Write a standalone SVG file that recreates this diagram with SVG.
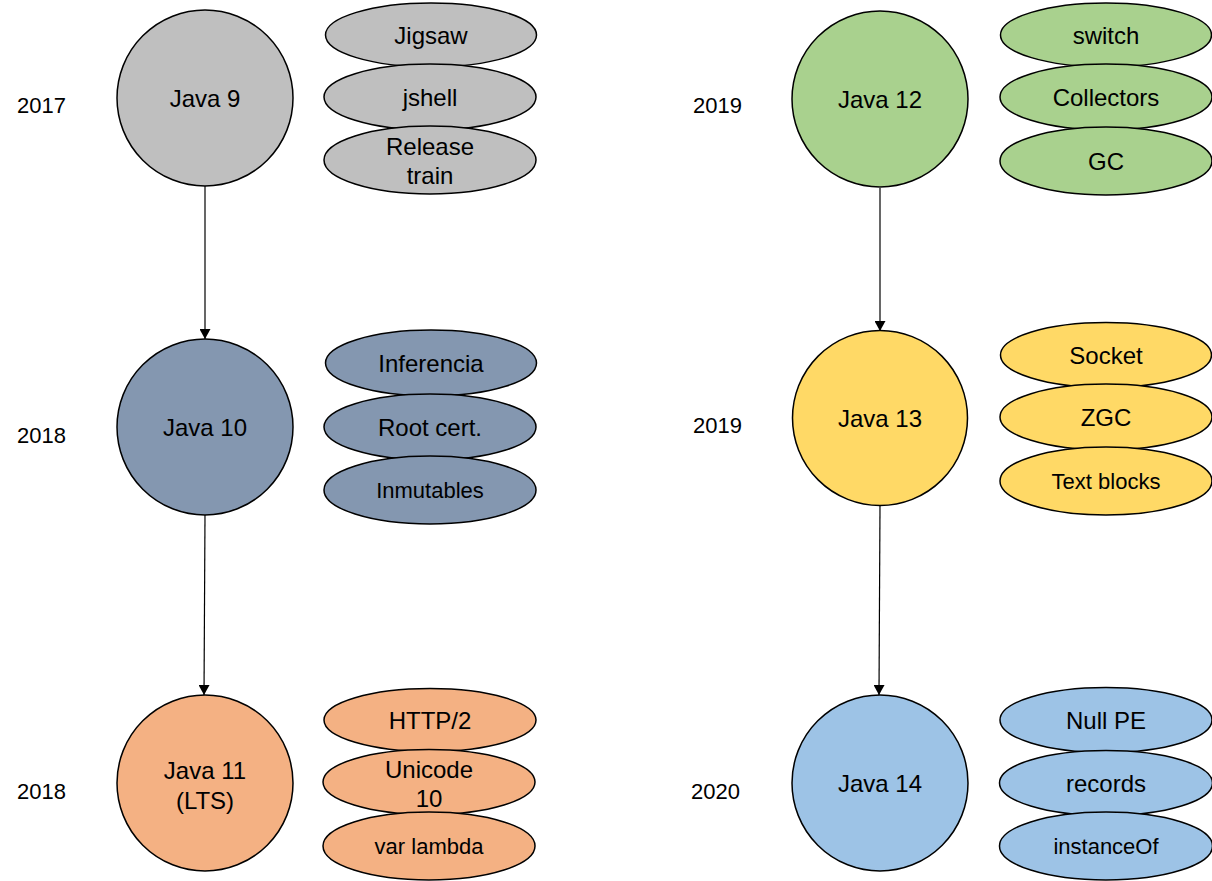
<svg xmlns="http://www.w3.org/2000/svg" width="1212" height="881" viewBox="0 0 1212 881">
<style>
text{font-family:"Liberation Sans",Arial,sans-serif;fill:#000;text-anchor:middle}
.yr{font-size:22px;text-anchor:start}
.t{font-size:24px}
.s{font-size:22px}
.n{stroke:#000;stroke-width:1.5}
.gray{fill:#BFBFBF}.slate{fill:#8497B0}.orange{fill:#F4B183}
.green{fill:#A9D18E}.yellow{fill:#FFD966}.blue{fill:#9DC3E6}
.c{stroke:#000;stroke-width:1.2;fill:none}
</style>
<defs>
<marker id="ah" markerUnits="userSpaceOnUse" markerWidth="11" markerHeight="11" refX="10" refY="5.5" orient="auto">
<path d="M0,0 L10,5.5 L0,11 z" fill="#000"/>
</marker>
</defs>
<rect width="1212" height="881" fill="#fff"/>

<g id="years">
<text class="yr" x="17" y="113">2017</text>
<text class="yr" x="17" y="443">2018</text>
<text class="yr" x="17" y="799">2018</text>
<text class="yr" x="693" y="113">2019</text>
<text class="yr" x="693" y="433">2019</text>
<text class="yr" x="691" y="799">2020</text>
</g>

<g id="connectors">
<line class="c" x1="205" y1="186" x2="205" y2="339" marker-end="url(#ah)"/>
<line class="c" x1="205" y1="515" x2="204" y2="695" marker-end="url(#ah)"/>
<line class="c" x1="880" y1="188" x2="880" y2="331" marker-end="url(#ah)"/>
<line class="c" x1="880" y1="506" x2="879" y2="695" marker-end="url(#ah)"/>
</g>

<g id="java9">
<circle class="n gray" cx="205" cy="98" r="88"/>
<text class="t" x="205" y="107">Java 9</text>
</g>
<g id="jigsaw"><ellipse class="n gray" cx="431" cy="35" rx="105.5" ry="32"/><text class="t" x="431" y="44">Jigsaw</text></g>
<g id="jshell"><ellipse class="n gray" cx="430" cy="97" rx="106" ry="33"/><text class="t" x="430" y="106">jshell</text></g>
<g id="release"><ellipse class="n gray" cx="430" cy="160" rx="106" ry="34"/><text class="t" x="430" y="155">Release</text><text class="t" x="430" y="184">train</text></g>

<g id="java10">
<circle class="n slate" cx="205" cy="427" r="88"/>
<text class="t" x="205" y="436">Java 10</text>
</g>
<g id="inferencia"><ellipse class="n slate" cx="431" cy="363" rx="105.5" ry="33"/><text class="t" x="431" y="372">Inferencia</text></g>
<g id="rootcert"><ellipse class="n slate" cx="430" cy="427" rx="106" ry="33"/><text class="t" x="430" y="436">Root cert.</text></g>
<g id="inmutables"><ellipse class="n slate" cx="430" cy="490" rx="106" ry="34"/><text class="s" x="430" y="498">Inmutables</text></g>

<g id="java11">
<circle class="n orange" cx="205" cy="783" r="88"/>
<text class="t" x="205" y="779">Java 11</text>
<text class="t" x="205" y="809">(LTS)</text>
</g>
<g id="http2"><ellipse class="n orange" cx="430" cy="720" rx="106" ry="31.5"/><text class="t" x="430" y="729">HTTP/2</text></g>
<g id="unicode"><ellipse class="n orange" cx="429" cy="782" rx="106" ry="32.5"/><text class="t" x="429" y="778">Unicode</text><text class="t" x="429" y="807">10</text></g>
<g id="varlambda"><ellipse class="n orange" cx="429" cy="846" rx="106" ry="34"/><text class="s" x="429" y="854">var lambda</text></g>

<g id="java12">
<circle class="n green" cx="880" cy="99" r="88"/>
<text class="t" x="880" y="108">Java 12</text>
</g>
<g id="switch"><ellipse class="n green" cx="1106" cy="35" rx="105.5" ry="32"/><text class="t" x="1106" y="44">switch</text></g>
<g id="collectors"><ellipse class="n green" cx="1106" cy="97" rx="106" ry="33"/><text class="t" x="1106" y="106">Collectors</text></g>
<g id="gc"><ellipse class="n green" cx="1106" cy="161" rx="106" ry="34"/><text class="t" x="1106" y="170">GC</text></g>

<g id="java13">
<circle class="n yellow" cx="880" cy="418" r="87.5"/>
<text class="t" x="880" y="427">Java 13</text>
</g>
<g id="socket"><ellipse class="n yellow" cx="1106" cy="355" rx="105.5" ry="32.5"/><text class="t" x="1106" y="364">Socket</text></g>
<g id="zgc"><ellipse class="n yellow" cx="1106" cy="417" rx="106" ry="33"/><text class="t" x="1106" y="426">ZGC</text></g>
<g id="textblocks"><ellipse class="n yellow" cx="1106" cy="481" rx="106" ry="34"/><text class="s" x="1106" y="489">Text blocks</text></g>

<g id="java14">
<circle class="n blue" cx="880" cy="783" r="88"/>
<text class="t" x="880" y="792">Java 14</text>
</g>
<g id="nullpe"><ellipse class="n blue" cx="1106" cy="720" rx="106" ry="32.5"/><text class="t" x="1106" y="729">Null PE</text></g>
<g id="records"><ellipse class="n blue" cx="1106" cy="783" rx="106.5" ry="32.5"/><text class="t" x="1106" y="792">records</text></g>
<g id="instanceof"><ellipse class="n blue" cx="1106" cy="846" rx="106.5" ry="34"/><text class="s" x="1106" y="854">instanceOf</text></g>
</svg>
